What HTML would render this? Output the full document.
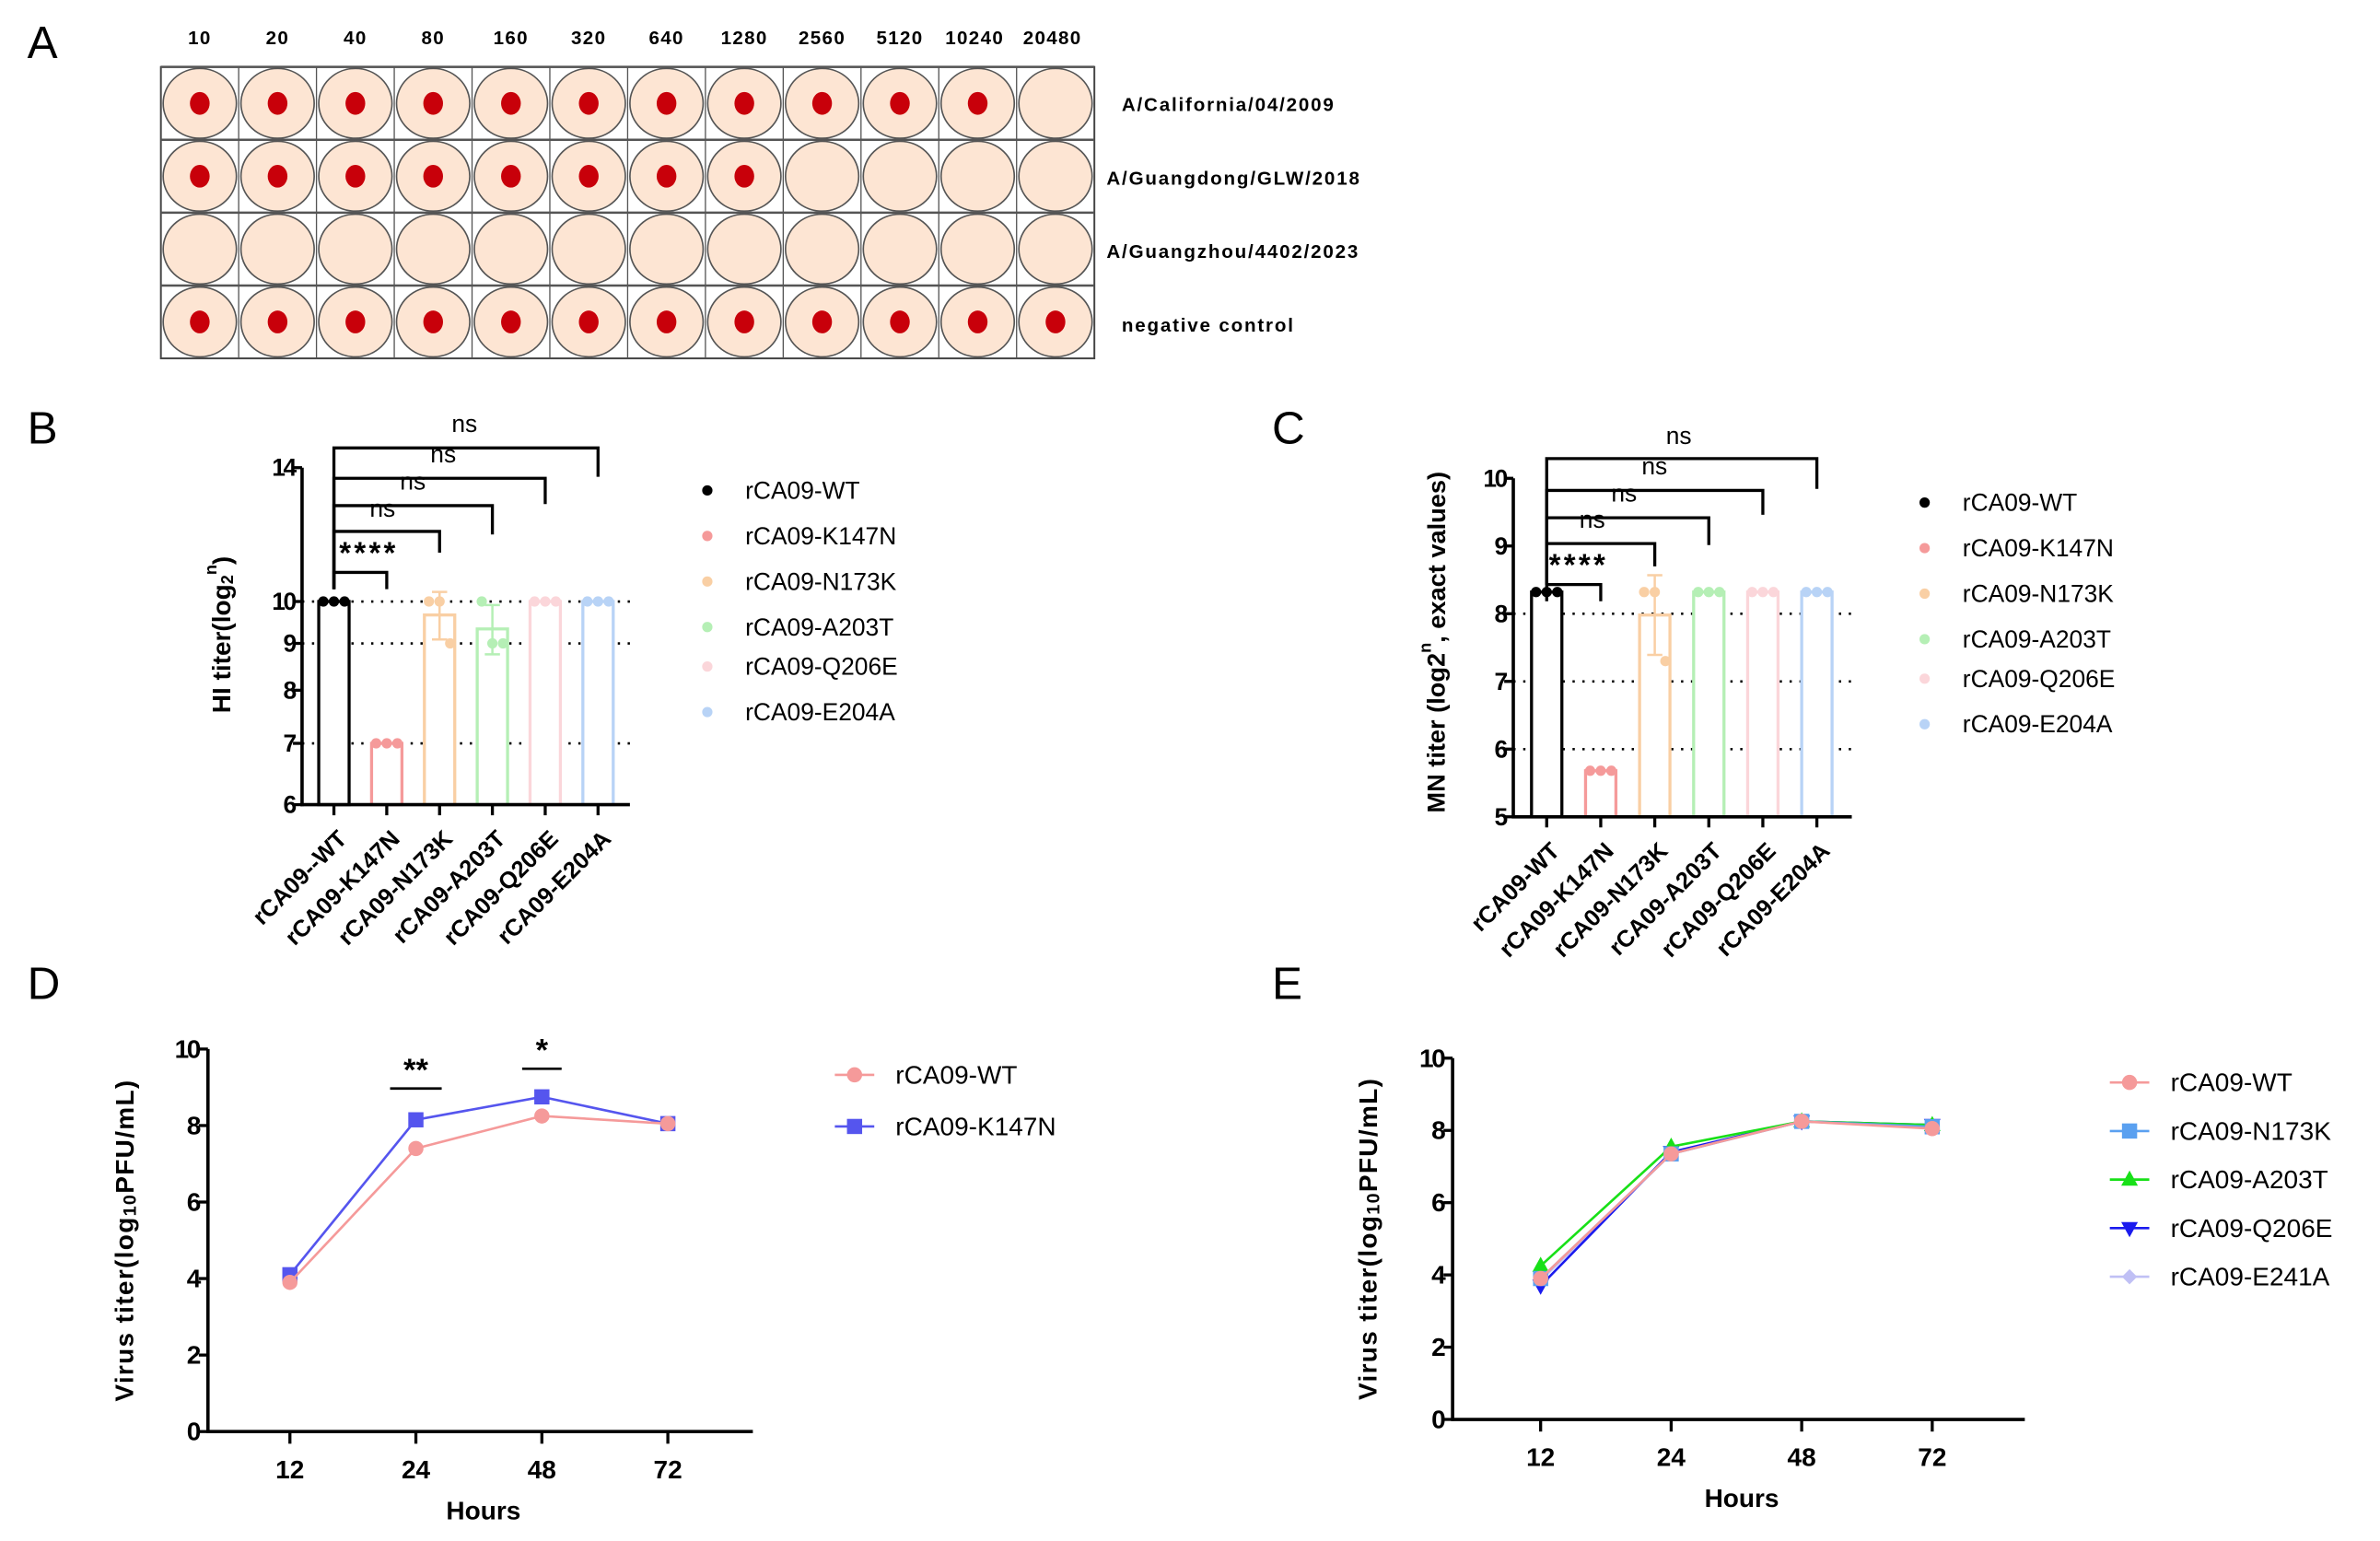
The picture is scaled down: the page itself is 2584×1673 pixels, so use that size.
<!DOCTYPE html>
<html><head><meta charset="utf-8"><style>
html,body{margin:0;padding:0;background:#fff;}
svg{display:block;font-family:"Liberation Sans",Arial,sans-serif;}
</style></head><body>
<svg id="fig" width="2584" height="1673" viewBox="0 0 1568 1015" xmlns="http://www.w3.org/2000/svg">
<rect width="1568" height="1015" fill="#fff"/>
<g id="A"></g>
<g id="B"></g>
<g id="C"></g>
<g id="D"></g>
<g id="E"></g>
</svg>
<script>
// ---------- DATA ----------
const plateDilutions = ["10","20","40","80","160","320","640","1280","2560","5120","10240","20480"];
const plateStrains = ["A/California/04/2009","A/Guangdong/GLW/2018","A/Guangzhou/4402/2023","negative control"];
const plateDotCounts = [11, 8, 0, 12];

const barCategories = ["rCA09-WT","rCA09-K147N","rCA09-N173K","rCA09-A203T","rCA09-Q206E","rCA09-E204A"];
const hiXLabels = ["rCA09--WT","rCA09-K147N","rCA09-N173K","rCA09-A203T","rCA09-Q206E","rCA09-E204A"];
const barColors = ["#000000","#f59a9a","#f9cfa4","#b5efb5","#fbd6da","#b8d3f6"];
const hiPoints = [[10,10,10],[7,7,7],[10,10,9],[10,9,9],[10,10,10],[10,10,10]];
const hiTicks = [6,7,8,9,10,14];
const hiGrid = [7,9,10];
const mnPoints = [[8.32,8.32,8.32],[5.68,5.68,5.68],[8.32,8.32,7.3],[8.32,8.32,8.32],[8.32,8.32,8.32],[8.32,8.32,8.32]];
const mnTicks = [5,6,7,8,9,10];
const mnGrid = [6,7,8];
const sigLabels = ["****","ns","ns","ns","ns"];

const hours = ["12","24","48","72"];
const growthTicks = [0,2,4,6,8,10];
const dNames = ["rCA09-WT","rCA09-K147N"];
const dWT = [3.9,7.4,8.25,8.05];
const dK147N = [4.1,8.15,8.75,8.05];
const eNames = ["rCA09-WT","rCA09-N173K","rCA09-A203T","rCA09-Q206E","rCA09-E241A"];
const eWT = [3.9,7.35,8.25,8.05];
const eN173K = [3.9,7.35,8.25,8.1];
const eA203T = [4.25,7.55,8.25,8.15];
const eQ206E = [3.7,7.4,8.25,8.15];
const eE241A = [3.85,7.35,8.25,8.1];

// ---------- HELPERS ----------
const NS="http://www.w3.org/2000/svg";
function mk(parent,tag,attrs,text){const e=document.createElementNS(NS,tag);for(const k in attrs)e.setAttribute(k,attrs[k]);if(text!==undefined)e.textContent=text;parent.appendChild(e);return e;}
function txt(p,x,y,s,size,opt){opt=opt||{};const t=mk(p,'text',Object.assign({x:x,y:y,'font-size':size,'text-anchor':opt.anchor||'start','dominant-baseline':'central',fill:opt.fill||'#000','font-weight':opt.bold?'bold':'normal'},opt.extra||{}),s);return t;}

// ---------- PANEL A ----------
(function(){
const g=document.getElementById('A');
const t=txt(g,18,28,"A",30);
const L=106,R=721,T=44,B=236,cw=(R-L)/12,rh=(B-T)/4;
mk(g,'rect',{x:L,y:T,width:R-L,height:B-T,fill:'none',stroke:'#444','stroke-width':1.2});
plateDilutions.forEach((d,i)=>{const e=txt(g,L+cw*(i+0.5)-(i>=10?2:0),25,d,12.5,{anchor:'middle',extra:{'letter-spacing':'0.8','font-weight':'600'}});
});
plateStrains.forEach((s,r)=>{
 mk(g,'line',{x1:L,x2:R,y1:T+rh*r,y2:T+rh*r,stroke:'#555','stroke-width':1.5});
 for(let c=0;c<12;c++){
  const cx=L+cw*(c+0.5),cy=T+rh*(r+0.5);
  const w=mk(g,'ellipse',{cx:cx,cy:cy,rx:cw/2-1.5,ry:rh/2-1,fill:'#fde5d3',stroke:'#555','stroke-width':1});
  
  if(c<plateDotCounts[r]){const d=mk(g,'ellipse',{cx:cx,cy:cy,rx:6.5,ry:7.5,fill:'#c8000a'});
   }
 }
 const e=txt(g,r==0||r==3?739:729,69+r*48.5,s,12.5,{extra:{'letter-spacing':'1.1','font-weight':'600'}});
 
});
for(let c=1;c<12;c++)mk(g,'line',{x1:L+cw*c,x2:L+cw*c,y1:T,y2:B,stroke:'#555','stroke-width':0.8});
})();

// ---------- BAR PANELS ----------
function barPanel(id,cfg){
 const g=document.getElementById(id);
 const lab=txt(g,cfg.labX,cfg.labY,id,30);
 const yS=cfg.yScale, xs=cfg.xs;
 cfg.grid.forEach(v=>{const l=mk(g,'line',{x1:cfg.ax,x2:cfg.axR,y1:yS(v),y2:yS(v),stroke:'#000','stroke-width':1.6,'stroke-dasharray':'1.5 5'});
  });
 cfg.points.forEach((pts,i)=>{
  const mean=pts.reduce((a,b)=>a+b,0)/pts.length;
  const sd=Math.sqrt(pts.reduce((a,b)=>a+(b-mean)*(b-mean),0)/(pts.length-1));
  const x=xs(i),w=cfg.bw,col=barColors[i];
  const r=mk(g,'rect',{x:x-w/2,y:yS(mean),width:w,height:cfg.y0-yS(mean),fill:'#fff',stroke:col,'stroke-width':2});
  
  if(sd>0){mk(g,'line',{x1:x,x2:x,y1:yS(mean+sd),y2:yS(mean-sd),stroke:col,'stroke-width':1.5});
   mk(g,'line',{x1:x-5,x2:x+5,y1:yS(mean+sd),y2:yS(mean+sd),stroke:col,'stroke-width':1.5});
   mk(g,'line',{x1:x-5,x2:x+5,y1:yS(mean-sd),y2:yS(mean-sd),stroke:col,'stroke-width':1.5});}
  pts.forEach((v,k)=>{const off=[-7,0,7][k];const c=mk(g,'circle',{cx:x+off,cy:yS(v),r:3.4,fill:col});
   });
 });
 mk(g,'line',{x1:cfg.ax,x2:cfg.ax,y1:yS(cfg.ticks[cfg.ticks.length-1]),y2:cfg.y0+1,stroke:'#000','stroke-width':2.2});
 mk(g,'line',{x1:cfg.ax-1,x2:cfg.axR,y1:cfg.y0,y2:cfg.y0,stroke:'#000','stroke-width':2.2});
 cfg.ticks.forEach(v=>{mk(g,'line',{x1:cfg.ax-6,x2:cfg.ax,y1:yS(v),y2:yS(v),stroke:'#000','stroke-width':2});
  const t=txt(g,cfg.ax-5,yS(v),String(v),16,{anchor:'end',bold:true,extra:{'letter-spacing':'-1.5'}});
  });
 cfg.xlabels.forEach((s,i)=>{mk(g,'line',{x1:xs(i),x2:xs(i),y1:cfg.y0,y2:cfg.y0+7,stroke:'#000','stroke-width':2});
  const t=txt(g,xs(i)+6,cfg.y0+20,s,15.5,{anchor:'end',bold:true,extra:{transform:`rotate(-45 ${xs(i)+6} ${cfg.y0+20})`}});
  });
 cfg.brackets.forEach((b,k)=>{
  const x0=xs(0),x1=xs(k+1);
  const p=mk(g,'path',{d:`M${x0} ${b[1]} V${b[0]} H${x1} V${b[2]}`,fill:'none',stroke:'#000','stroke-width':2});
  
  const t=txt(g,b[3],b[4],sigLabels[k],k==0?20:16,{anchor:'middle',bold:k==0,extra:k==0?{'letter-spacing':'2'}:{}});
  
 });
 const yt=mk(g,'text',{x:0,y:0,'font-size':cfg.ytSize,'font-weight':'bold','text-anchor':'middle','dominant-baseline':'central',transform:`translate(${cfg.ytX} ${cfg.ytY}) rotate(-90)`});
 yt.innerHTML=cfg.ytitle;
 barCategories.forEach((s,i)=>{const y=cfg.legY[i];
  const c=mk(g,'circle',{cx:cfg.legX,cy:y,r:3.4,fill:barColors[i]});
  const t=txt(g,cfg.legX+25,y,s,16);});
}
const hiLog=v=>530-(Math.log(v)-Math.log(6))/(Math.log(14)-Math.log(6))*222;
barPanel('B',{labX:18,labY:282,ax:199,axR:415,y0:530,yScale:hiLog,xs:i=>220+i*34.8,bw:20,
 points:hiPoints,ticks:hiTicks,grid:hiGrid,xlabels:hiXLabels,
 brackets:[[377,388,388,243,364],[350,388,364,252,335],[333,388,352,272,317],[315,388,332,292,299],[295,388,314,306,279]],
 ytX:146,ytY:418,ytSize:17,ytitle:'HI titer(log<tspan font-size="11" dy="4">2</tspan><tspan font-size="11" dy="-11">n</tspan><tspan dy="7">)</tspan>',
 legX:466,legY:[323,353,383,413,439,469]});
const mnLin=v=>538-(v-5)*44.6;
barPanel('C',{labX:838,labY:282,ax:997,axR:1220,y0:538,yScale:mnLin,xs:i=>1019+i*35.6,bw:20,
 points:mnPoints,ticks:mnTicks,grid:mnGrid,xlabels:barCategories,
 brackets:[[385,396,396,1040,372],[358,385,373,1049,342],[341,385,359,1070,325],[323,385,339,1090,307],[302,385,322,1106,287]],
 ytX:946,ytY:423,ytSize:16.5,ytitle:'MN titer (log2<tspan font-size="11" dy="-7">n</tspan><tspan dy="7">, exact values)</tspan>',
 legX:1268,legY:[331,361,391,421,447,477]});

// ---------- LINE PANELS ----------
function marker(g,shape,x,y,col){
 let e;
 if(shape=='circle')e=mk(g,'circle',{cx:x,cy:y,r:5,fill:col});
 else if(shape=='square')e=mk(g,'rect',{x:x-5,y:y-5,width:10,height:10,fill:col});
 else if(shape=='tri')e=mk(g,'path',{d:`M${x} ${y-6}L${x+5.5} ${y+4}L${x-5.5} ${y+4}Z`,fill:col});
 else if(shape=='tridown')e=mk(g,'path',{d:`M${x} ${y+6}L${x+5.5} ${y-4}L${x-5.5} ${y-4}Z`,fill:col});
 else e=mk(g,'path',{d:`M${x} ${y-5}L${x+5} ${y}L${x} ${y+5}L${x-5} ${y}Z`,fill:col});
 
}
function linePanel(id,cfg){
 const g=document.getElementById(id);
 const lab=txt(g,cfg.labX,648,id,30);
 const yS=v=>cfg.y0-(v/10)*(cfg.y0-cfg.y10);
 const xs=i=>cfg.x12+i*cfg.dx;
 mk(g,'line',{x1:cfg.ax,x2:cfg.ax,y1:cfg.y10,y2:cfg.y0+1,stroke:'#000','stroke-width':2.2});
 mk(g,'line',{x1:cfg.ax-1,x2:cfg.axR,y1:cfg.y0,y2:cfg.y0,stroke:'#000','stroke-width':2.2});
 growthTicks.forEach(v=>{mk(g,'line',{x1:cfg.ax-6,x2:cfg.ax,y1:yS(v),y2:yS(v),stroke:'#000','stroke-width':2});
  const t=txt(g,cfg.ax-6,yS(v),String(v),17,{anchor:'end',bold:true,extra:{'letter-spacing':'-1.5'}});
  });
 hours.forEach((h,i)=>{mk(g,'line',{x1:xs(i),x2:xs(i),y1:cfg.y0,y2:cfg.y0+8,stroke:'#000','stroke-width':2});
  const t=txt(g,xs(i),cfg.y0+25,h,17,{anchor:'middle',bold:true});});
 const xt=txt(g,(cfg.ax+cfg.axR)/2+2,cfg.y0+52,"Hours",17,{anchor:'middle',bold:true});
 const yt=mk(g,'text',{x:0,y:0,'font-size':17,'font-weight':'bold','text-anchor':'middle','dominant-baseline':'central','letter-spacing':'0.8',transform:`translate(${cfg.ytX} ${(cfg.y0+cfg.y10)/2}) rotate(-90)`});
 yt.innerHTML='Virus titer(log<tspan font-size="12" dy="4">10</tspan><tspan dy="-4">PFU/mL)</tspan>';
 
 cfg.series.slice().reverse().forEach(s=>{
  const pl=mk(g,'polyline',{points:s.data.map((v,i)=>xs(i)+','+yS(v)).join(' '),fill:'none',stroke:s.col,'stroke-width':1.6});
  
  s.data.forEach((v,i)=>marker(g,s.shape,xs(i),yS(v),s.col));
 });
 cfg.series.forEach((s,k)=>{const y=cfg.legY[k];
  mk(g,'line',{x1:cfg.legX-13,x2:cfg.legX+13,y1:y,y2:y,stroke:s.col,'stroke-width':1.6});
  marker(g,s.shape,cfg.legX,y,s.col);
  const t=txt(g,cfg.legX+27,y,s.name,17);});
 (cfg.sig||[]).forEach(s=>{
  mk(g,'line',{x1:xs(s.i)-s.w/2,x2:xs(s.i)+s.w/2,y1:s.y,y2:s.y,stroke:'#000','stroke-width':1.6});
  const t=txt(g,xs(s.i),s.y-12,s.t,21,{anchor:'middle',bold:true});});
}
linePanel('D',{labX:18,ax:137,axR:496,y0:943,y10:691,x12:191,dx:83,ytX:82,
 series:[{name:dNames[0],data:dWT,col:'#f59a9a',shape:'circle'},{name:dNames[1],data:dK147N,col:'#5555ee',shape:'square'}],
 legX:563,legY:[708,742],sig:[{i:1,y:717,w:34,t:'**'},{i:2,y:704,w:26,t:'*'}]});
linePanel('E',{labX:838,ax:957,axR:1334,y0:935,y10:697,x12:1015,dx:86,ytX:901,
 series:[{name:eNames[0],data:eWT,col:'#f59a9a',shape:'circle'},{name:eNames[1],data:eN173K,col:'#5aa0f0',shape:'square'},
  {name:eNames[2],data:eA203T,col:'#18e018',shape:'tri'},{name:eNames[3],data:eQ206E,col:'#1a1aee',shape:'tridown'},
  {name:eNames[4],data:eE241A,col:'#c0c0f5',shape:'diamond'}],
 legX:1403,legY:[713,745,777,809,841]});
</script>
</body></html>
